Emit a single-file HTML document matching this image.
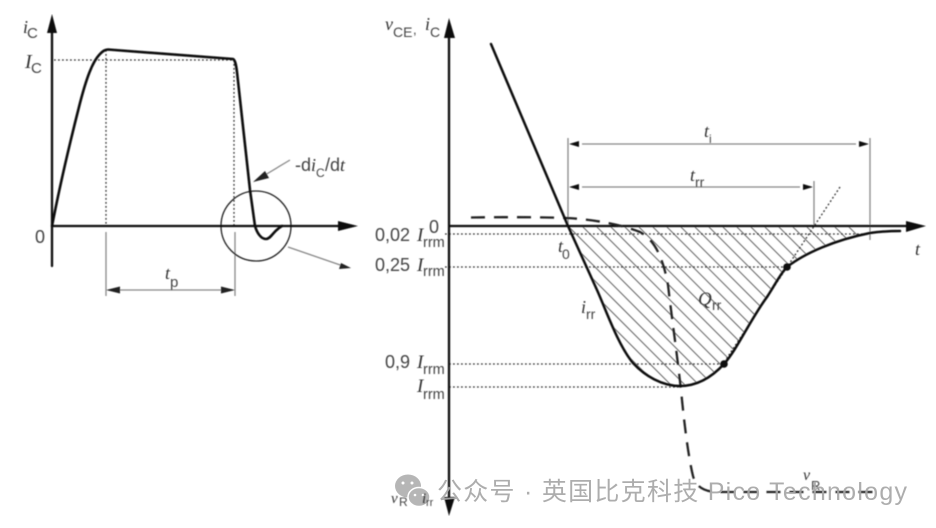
<!DOCTYPE html>
<html>
<head>
<meta charset="utf-8">
<style>
html,body{margin:0;padding:0;background:#fff;width:936px;height:528px;overflow:hidden}
svg{display:block}
.s{font-family:"Liberation Sans",sans-serif;fill:#444}
.i{font-family:"Liberation Serif",serif;font-style:italic;fill:#333}
.g{stroke:#888;stroke-width:1.3;fill:none}
.d{stroke:#333;stroke-width:1.3;fill:none;stroke-dasharray:1.8 2.2}
.k{stroke:#111;fill:none;stroke-linejoin:round;stroke-linecap:round}
</style>
</head>
<body>
<svg width="936" height="528" viewBox="0 0 936 528" xmlns="http://www.w3.org/2000/svg">
<defs>
<clipPath id="h"><path d="M568,226 L597,290 C606,310 618,345 633,363 C645,376 662,386 680,386 C698,386 712,377 724,364 C738,348 750,320 767,297 C775,285 780,274 787,267 C805,253 835,240 870,232 L870,226 Z"/></clipPath>
<filter id="b" x="0" y="0" width="100%" height="100%"><feGaussianBlur stdDeviation="0.5"/></filter>
</defs>
<g opacity="0.92">
<ellipse cx="408" cy="486" rx="13" ry="11.500" fill="#b0b0b0"/>
<ellipse cx="419" cy="497" rx="11" ry="9.500" fill="#b0b0b0" stroke="#fff" stroke-width="1.500"/>
<circle cx="403" cy="483" r="1.500" fill="#fff"/><circle cx="412" cy="483" r="1.500" fill="#fff"/>
<circle cx="415" cy="495" r="1.300" fill="#fff"/><circle cx="423" cy="495" r="1.300" fill="#fff"/>
</g>
<g filter="url(#b)">
<!-- LEFT -->
<path class="d" d="M54,60 H233 M106,50 V226 M234,60 V226"/>
<path class="g" d="M106,232 V296 M235,232 V296 M108,290 H233"/>
<path d="M106,290 L120,286.500 V293.500 Z M235,290 L221,286.500 V293.500 Z" fill="#222"/>
<circle cx="256" cy="226" r="35" fill="none" stroke="#222" stroke-width="1.300"/>
<path class="k" stroke-width="2.600" d="M52,226 C58,195 68,150 80,103 C86,80 92,62 100,54 C103,51 105,49.500 108,49.500 L233,59 C235,60 236,64 237,72 L250,190 L255,226 C257,233 261,239 266,239 C271,239 273,231 282,226"/>
<path class="k" stroke-width="2.300" d="M52,30 V266 M52,226 H340"/>
<path d="M52,14 L57,33 H47 Z M358,226 L338,221 V231 Z" fill="#111"/>
<path class="g" d="M290,160 L260,178 M288,247 L346,267"/>
<path d="M253,182 L265,171 L269,178 Z M351,268 L341,263 L339,269 Z" fill="#222"/>
<text class="i" x="23" y="33" font-size="18">i</text><text class="s" x="27" y="38" font-size="15">C</text>
<text class="i" x="25" y="68" font-size="20">I</text><text class="s" x="31" y="73" font-size="15">C</text>
<text class="s" x="35" y="243" font-size="18">0</text>
<text class="i" x="165" y="279" font-size="18">t</text><text class="s" x="170" y="287" font-size="15">p</text>
<text class="s" x="295" y="171" font-size="18">-d</text><text class="i" x="311" y="171" font-size="18">i</text><text class="s" x="316" y="177" font-size="12">C</text><text class="s" x="325" y="171" font-size="18">/d</text><text class="i" x="340" y="171" font-size="18">t</text>

<!-- RIGHT hatching -->
<g clip-path="url(#h)" stroke="#666" stroke-width="1">
<path d="M400,226 L640,466 M414,226 L654,466 M428,226 L668,466 M442,226 L682,466 M456,226 L696,466 M470,226 L710,466 M484,226 L724,466 M498,226 L738,466 M512,226 L752,466 M526,226 L766,466 M540,226 L780,466 M554,226 L794,466 M568,226 L808,466 M582,226 L822,466 M596,226 L836,466 M610,226 L850,466 M624,226 L864,466 M638,226 L878,466 M652,226 L892,466 M666,226 L906,466 M680,226 L920,466 M694,226 L934,466 M708,226 L948,466 M722,226 L962,466 M736,226 L976,466 M750,226 L990,466 M764,226 L1004,466 M778,226 L1018,466 M792,226 L1032,466 M806,226 L1046,466 M820,226 L1060,466 M834,226 L1074,466 M848,226 L1088,466"/>
</g>
<path class="d" d="M445,234 H870 M445,267 H787 M449,364 H724 M449,387 H680 M840,187 L723,364"/>
<path class="g" d="M568,138 V226 M814,181 V226 M870,138 V240 M582,144 H856 M582,187 H800"/>
<path d="M569,144 L579,141 V147 Z M869,144 L859,141 V147 Z M569,187 L579,184 V190 Z M813,187 L803,184 V190 Z" fill="#111"/>
<path class="k" stroke-width="2.300" d="M449,34 V500 M449,226 H908"/>
<path d="M449,18 L455,38 H444 Z M449,516 L455,497 H444 Z M926,226 L906,221 V232 Z" fill="#111"/>
<!-- dashed voltage -->
<path fill="none" stroke="#222" stroke-width="2.300" stroke-dasharray="14 9" d="M471,217.500 C500,217 540,217 566,218 C590,219 620,224 640,232 C655,240 663,258 668,285 C672,320 678,360 682,400 C685,430 689,460 693,476 C696,487 704,491 715,492 L880,492"/>
<!-- current -->
<path class="k" stroke-width="2.500" d="M491,44 L568,226 L597,290 C606,310 618,345 633,363 C645,376 662,386 680,386 C698,386 712,377 724,364 C738,348 750,320 767,297 C775,285 780,274 787,267 C805,253 835,240 870,233 C880,231.500 890,231 900,231"/>
<circle cx="787" cy="267" r="3.800" fill="#111"/>
<circle cx="724" cy="364" r="3.800" fill="#111"/>
<!-- labels -->
<text class="i" x="385" y="30" font-size="18">v</text><text class="s" x="393" y="37" font-size="14">CE</text><text class="s" x="413" y="34" font-size="13">,</text>
<text class="i" x="425" y="30" font-size="18">i</text><text class="s" x="430" y="37" font-size="14">C</text>
<text class="s" x="429" y="233" font-size="18">0</text>
<text class="s" x="375" y="241" font-size="18">0,02</text><text class="i" x="417" y="241" font-size="19">I</text><text class="s" x="423" y="247" font-size="14.500">rrm</text>
<text class="s" x="375" y="271" font-size="18">0,25</text><text class="i" x="417" y="271" font-size="19">I</text><text class="s" x="423" y="276" font-size="14.500">rrm</text>
<text class="s" x="385" y="368" font-size="18">0,9</text><text class="i" x="417" y="368" font-size="19">I</text><text class="s" x="423" y="374" font-size="14.500">rrm</text>
<text class="i" x="417" y="392" font-size="19">I</text><text class="s" x="423" y="399" font-size="14.500">rrm</text>
<text class="i" x="558" y="252" font-size="18">t</text><text class="s" x="562" y="259" font-size="14">0</text>
<text class="i" x="581" y="313" font-size="18">i</text><text class="s" x="586" y="319" font-size="14">rr</text>
<text class="i" x="698" y="305" font-size="19">Q</text><text class="s" x="712" y="310" font-size="14">rr</text>
<text class="i" x="704" y="137" font-size="18">t</text><text class="s" x="709" y="143" font-size="12">i</text>
<text class="i" x="690" y="181" font-size="18">t</text><text class="s" x="695" y="187" font-size="14">rr</text>
<text class="i" x="915" y="255" font-size="18">t</text>
<text class="i" x="803" y="480" font-size="16">v</text><text class="s" x="811" y="490" font-size="13">R</text>
<text class="i" x="391" y="503" font-size="15">v</text><text class="s" x="399" y="506" font-size="12">R</text><text class="i" x="422" y="503" font-size="15">i</text><text class="s" x="426" y="506" font-size="11">rr</text>
</g>
<text x="437" y="500" font-size="25" fill="#a6a6a6" opacity="0.92" style="font-family:'Liberation Sans','Noto Sans CJK SC',sans-serif" textLength="470" lengthAdjust="spacing">公众号 · 英国比克科技 Pico Technology</text>
</svg>
</body>
</html>
